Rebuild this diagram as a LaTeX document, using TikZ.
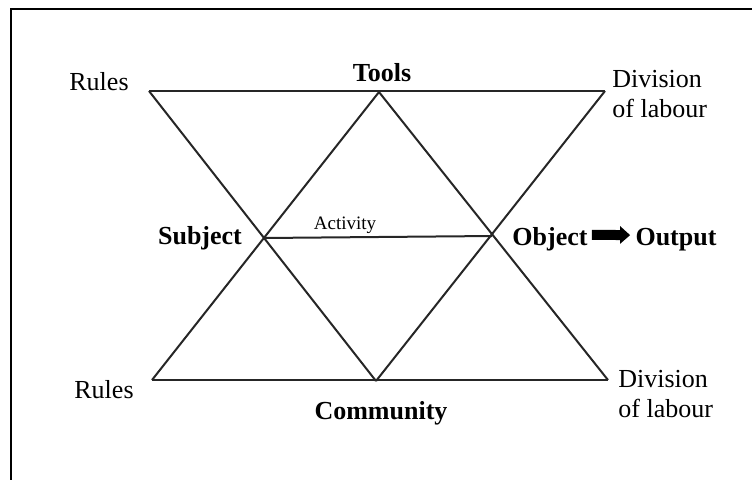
\documentclass[tikz,border=0pt]{standalone}
\usepackage{fontspec}
\setmainfont{Liberation Serif}
\usetikzlibrary{arrows.meta, positioning}

\tikzset{
    edge/.style={color=black!85, line width=1pt},
    txt/.style={font=\fontsize{13}{15}\selectfont, inner sep=0pt, align=left},
    bold/.style={txt, font=\fontsize{13}{15}\selectfont\bfseries},
}

\begin{document}
\begin{tikzpicture}[x=0.5pt, y=-0.5pt]
    \useasboundingbox (0,0) rectangle (752,479);
    % frame
    \draw[line width=1pt] (11,490) -- (11,9) -- (760,9);

    % corners
    \coordinate (rulesT) at (149,91);
    \coordinate (tools) at (379,92);
    \coordinate (divT) at (605,91);
    \coordinate (subject) at (263,238);
    \coordinate (object) at (492,236);
    \coordinate (rulesB) at (152,380);
    \coordinate (community) at (376,381);
    \coordinate (divB) at (608,380);

    % top and bottom
    \draw[edge] (rulesT) -- (divT);
    \draw[edge] (rulesB) -- (divB);

    % crossing lines
    \draw[edge] (rulesT) -- (community);
    \draw[edge] (tools) -- (rulesB);
    \draw[edge] (tools) -- (divB);
    \draw[edge] (divT) -- (community);

    % Activity
    \draw[edge] (subject) -- (object);
    \node[txt, font=\fontsize{9.5}{11}\selectfont, anchor=base] (activityL) at (345,229) {Activity};

    % labels
    \node[txt, anchor=base] (rulesTL) at (99,90) {Rules};
    \node[bold, anchor=base] (toolsL) at (382,81) {Tools};
    \node[txt, anchor=base west] (divTL) at (612,117) {Division\\of labour};
    \node[bold, anchor=base] (subjectL) at (200,244) {Subject};
    \node[bold, anchor=base] (objectL) at (550,245) {Object};
    \node[bold, anchor=base] (outputL) at (676,245) {Output};
    \node[txt, anchor=base] (rulesBL) at (104,398) {Rules};
    \node[bold, anchor=base] (communityL) at (381,419) {Community};
    \node[txt, anchor=base west] (divBL) at (618,417) {Division\\of labour};

    % Object to Output
    \draw[line width=5pt, -{Triangle[width=8.5pt, length=5pt]}, shorten <=2pt, shorten >=2.5pt]
        ([yshift=2pt]objectL.east) -- ([yshift=2pt]outputL.west);
\end{tikzpicture}
\end{document}
